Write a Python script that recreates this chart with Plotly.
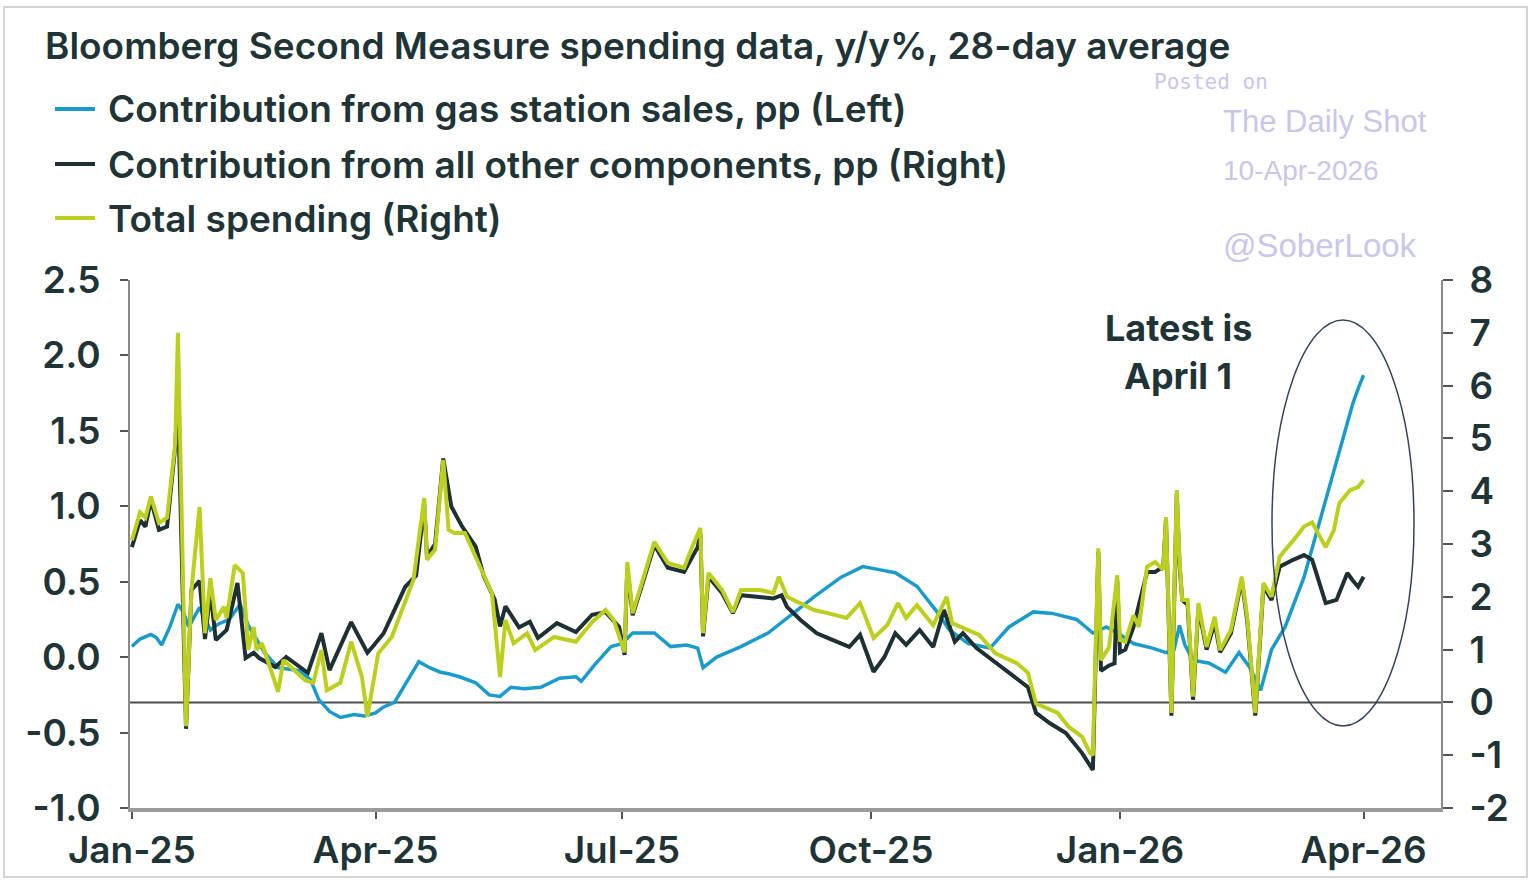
import pandas as pd
import plotly.graph_objects as go

# ---------------- data (days since 2025-01-01) ----------------
BASE = pd.Timestamp("2025-01-01")

gas_days = [0, 3, 7, 9, 11, 14, 17, 19, 21, 25, 29, 32, 36, 40, 43, 49, 54, 62, 66, 69,
            73, 77, 82, 86, 90, 93, 97, 101, 106, 110, 114, 117, 121, 127, 132, 136, 140, 145, 151, 158,
            164, 166, 171, 177, 181, 185, 193, 199, 205, 209, 211, 216, 225, 235, 244, 252, 262, 270, 276, 282,
            290, 297, 302, 309, 317, 324, 333, 340, 349, 355, 360, 365, 370, 377, 382, 385, 387, 389, 392, 398,
            404, 409, 413, 417, 421, 426, 433, 440, 446, 451, 453, 455]
gas_vals = [0.07, 0.12, 0.15, 0.13, 0.08, 0.20, 0.35, 0.30, 0.20, 0.33, 0.18, 0.22, 0.25, 0.35, 0.21, 0.03, -0.07, -0.09, -0.15, -0.28,
            -0.36, -0.40, -0.38, -0.39, -0.37, -0.33, -0.30, -0.18, -0.03, -0.07, -0.10, -0.11, -0.13, -0.17, -0.25, -0.26, -0.20, -0.21, -0.20, -0.14,
            -0.13, -0.16, -0.05, 0.07, 0.09, 0.16, 0.16, 0.07, 0.08, 0.06, -0.07, 0.00, 0.07, 0.16, 0.29, 0.40, 0.53, 0.60, 0.58, 0.56,
            0.47, 0.31, 0.18, 0.09, 0.06, 0.20, 0.30, 0.29, 0.25, 0.16, 0.20, 0.15, 0.09, 0.06, 0.03, 0.05, 0.21, 0.08, -0.02, -0.04,
            -0.10, 0.03, -0.07, -0.22, 0.05, 0.20, 0.53, 0.98, 1.35, 1.68, 1.78, 1.87]

other_days = [0, 3, 5, 7, 10, 13, 16, 17, 20, 22, 25, 27, 29, 31, 35, 39, 42, 45, 47, 53,
              57, 65, 70, 73, 81, 87, 89, 93, 101, 105, 108, 109, 112, 115, 118, 122, 127, 130, 134, 136,
              138, 143, 147, 150, 157, 164, 170, 175, 180, 182, 183, 185, 189, 193, 198, 204, 209, 210, 211, 213,
              218, 222, 225, 232, 237, 240, 242, 247, 253, 259, 265, 269, 274, 278, 282, 286, 291, 296, 300, 304,
              307, 312, 318, 324, 331, 334, 339, 345, 351, 355, 357, 358, 361, 363, 364, 365, 367, 370, 375, 378,
              381, 382, 384, 386, 387, 388, 390, 392, 394, 397, 400, 402, 406, 410, 412, 415, 418, 421, 424, 429,
              433, 436, 439, 441, 445, 449, 451, 453, 455]
other_vals = [2.94, 3.45, 3.33, 3.83, 3.27, 3.33, 4.84, 5.75, -0.50, 2.13, 2.30, 1.20, 2.10, 1.18, 1.37, 2.26, 0.84, 0.94, 0.84, 0.67,
              0.86, 0.56, 1.31, 0.61, 1.52, 0.94, 1.06, 1.31, 2.19, 2.40, 3.75, 2.76, 3.00, 4.62, 3.71, 3.33, 2.95, 2.39, 1.95, 1.44,
              1.82, 1.42, 1.53, 1.22, 1.50, 1.33, 1.66, 1.71, 1.43, 0.90, 2.55, 1.65, 2.31, 2.98, 2.55, 2.47, 2.94, 3.20, 1.25, 2.38,
              2.07, 1.69, 2.03, 2.00, 1.97, 2.03, 1.81, 1.56, 1.31, 1.18, 1.05, 1.28, 0.58, 0.86, 1.31, 1.09, 1.37, 1.05, 1.75, 1.15,
              1.31, 1.03, 0.80, 0.56, 0.29, -0.20, -0.39, -0.58, -0.96, -1.28, 2.85, 0.60, 0.70, 0.74, 2.30, 0.95, 1.00, 1.43, 2.47, 2.47,
              2.57, 3.45, -0.25, 3.95, 2.60, 1.94, 1.85, 0.05, 1.80, 1.00, 1.50, 0.95, 1.31, 2.32, 1.55, -0.25, 2.20, 1.94, 2.57, 2.70,
              2.79, 2.70, 2.19, 1.88, 1.94, 2.45, 2.31, 2.19, 2.38]

total_days = [0, 3, 5, 7, 10, 13, 16, 17, 20, 22, 25, 26, 27, 29, 31, 34, 35, 38, 41, 43,
              45, 46, 48, 51, 54, 56, 60, 64, 67, 70, 72, 77, 81, 85, 87, 91, 96, 101, 104, 108,
              109, 112, 115, 117, 119, 123, 128, 133, 136, 138, 141, 146, 149, 156, 164, 170, 175, 178, 182, 183,
              185, 189, 193, 198, 204, 207, 210, 211, 213, 218, 222, 225, 232, 237, 239, 242, 247, 252, 257, 264,
              269, 274, 279, 283, 286, 290, 296, 301, 303, 307, 313, 319, 327, 331, 334, 342, 346, 351, 354, 355,
              357, 358, 361, 364, 365, 367, 370, 372, 375, 378, 381, 382, 384, 386, 387, 388, 390, 392, 394, 397,
              400, 402, 406, 410, 412, 415, 418, 421, 424, 430, 433, 436, 438, 441, 444, 446, 450, 453, 455]
total_vals = [3.07, 3.60, 3.50, 3.90, 3.40, 3.50, 4.90, 7.00, -0.45, 2.13, 3.70, 2.38, 1.31, 2.35, 1.56, 1.81, 1.60, 2.60, 2.45, 1.00,
              1.43, 0.99, 1.12, 0.67, 0.20, 0.80, 0.61, 0.42, 0.37, 0.99, 0.23, 0.37, 1.15, 0.48, -0.27, 0.93, 1.24, 1.94, 2.32, 3.87,
              2.70, 2.89, 4.59, 3.27, 3.21, 3.21, 2.64, 2.07, 0.48, 1.56, 1.12, 1.31, 0.99, 1.24, 1.15, 1.52, 1.75, 1.56, 0.95, 2.66,
              1.69, 2.38, 3.04, 2.64, 2.55, 2.95, 3.30, 1.31, 2.45, 2.13, 1.71, 2.13, 2.13, 2.07, 2.38, 2.00, 1.88, 1.75, 1.69, 1.60,
              1.88, 1.22, 1.46, 1.88, 1.60, 1.84, 1.46, 2.00, 1.50, 1.41, 1.28, 0.93, 0.74, 0.56, -0.02, -0.20, -0.46, -0.65, -0.96, -1.00,
              2.92, 0.80, 1.05, 2.41, 1.18, 1.15, 1.65, 1.43, 2.57, 2.66, 2.51, 3.51, -0.20, 4.02, 2.70, 1.94, 1.94, 0.11, 1.88, 1.05,
              1.62, 0.99, 1.37, 2.38, 1.62, -0.20, 2.26, 2.00, 2.76, 3.13, 3.33, 3.41, 3.21, 2.94, 3.26, 3.77, 4.02, 4.08, 4.21]

series_names = ["Contribution from gas station sales, pp (Left)",
                "Contribution from all other components, pp (Right)",
                "Total spending (Right)"]

left_tickvals = [-1.0, -0.5, 0.0, 0.5, 1.0, 1.5, 2.0, 2.5]
left_ticktext = ["-1.0", "-0.5", "0.0", "0.5", "1.0", "1.5", "2.0", "2.5"]
right_tickvals = [-2, -1, 0, 1, 2, 3, 4, 5, 6, 7, 8]
right_ticktext = ["-2", "-1", "0", "1", "2", "3", "4", "5", "6", "7", "8"]

title_text = "Bloomberg Second Measure spending data, y/y%, 28-day average"
note_lines = ["Latest is", "April 1"]
watermarks = ["Posted on", "The Daily Shot", "10-Apr-2026", "@SoberLook"]

# ---------------- style ----------------
W, H = 1534, 884
ML, MR, MT, MB = 130, 93, 280, 76
BLUE, DARK, YELLOW = "#1b9bcb", "#1d3034", "#bccf1e"
TXT = "#1f3437"
WM = "#c9c6ea"
FONT = "Inter"
FS = 37


def px_x(px):
    return (px - ML) / (W - ML - MR)


def px_y(py):
    return (H - MB - py) / (H - MT - MB)


def dates(days):
    return [BASE + pd.Timedelta(days=d) for d in days]


fig = go.Figure()
fig.add_trace(go.Scatter(x=dates(gas_days), y=gas_vals, name=series_names[0], mode="lines",
                         line=dict(color=BLUE, width=3.5), yaxis="y"))
fig.add_trace(go.Scatter(x=dates(other_days), y=other_vals, name=series_names[1], mode="lines",
                         line=dict(color=DARK, width=4), yaxis="y2"))
fig.add_trace(go.Scatter(x=dates(total_days), y=total_vals, name=series_names[2], mode="lines",
                         line=dict(color=YELLOW, width=4), yaxis="y2"))

tickfont = dict(family=FONT, size=FS, color=TXT, weight=600)

fig.update_layout(
    width=W, height=H, autosize=False,
    margin=dict(l=ML, r=MR, t=MT, b=MB, pad=0),
    paper_bgcolor="white", plot_bgcolor="white",
    showlegend=False,
    xaxis=dict(type="date",
               range=[BASE - pd.Timedelta(days=0.7), BASE + pd.Timedelta(days=483.6)],
               tick0="2025-01-01", dtick="M3", tickformat="%b-%y",
               ticks="outside", ticklen=7, tickwidth=1.5, tickcolor="#555",
               showline=True, linecolor="#9a9a9a", linewidth=4,
               showgrid=False, zeroline=False, tickfont=tickfont),
    yaxis=dict(range=[-1.0, 2.5], tickvals=left_tickvals, ticktext=left_ticktext,
               ticks="outside", ticklen=8, tickwidth=1.5, tickcolor="#555",
               showline=True, linecolor="#8a8a8a", linewidth=2,
               showgrid=False, zeroline=False, tickfont=tickfont, ticklabelstandoff=12),
    yaxis2=dict(range=[-2, 8], tickvals=right_tickvals, ticktext=right_ticktext,
                overlaying="y", side="right",
                ticks="outside", ticklen=10, tickwidth=1.5, tickcolor="#555",
                showline=True, linecolor="#8a8a8a", linewidth=2,
                showgrid=False, zeroline=False, tickfont=tickfont, ticklabelstandoff=9),
)

shapes = []
# outer frame
shapes.append(dict(type="rect", xref="paper", yref="paper",
                   x0=px_x(4), x1=px_x(1527), y0=px_y(877), y1=px_y(7),
                   line=dict(color="#d4d4d4", width=2), layer="below"))
# zero line of right axis
shapes.append(dict(type="line", xref="paper", yref="y2", x0=0, x1=1, y0=0, y1=0,
                   line=dict(color="#4d4d4d", width=2), layer="below"))
# ellipse
shapes.append(dict(type="circle", xref="paper", yref="paper",
                   x0=px_x(1272), x1=px_x(1414), y0=px_y(726), y1=px_y(320),
                   line=dict(color="#34445f", width=1.5)))
# legend swatches
leg_y = [109, 164, 218]
for yy, c in zip(leg_y, [BLUE, DARK, YELLOW]):
    shapes.append(dict(type="line", xref="paper", yref="paper",
                       x0=px_x(55), x1=px_x(95), y0=px_y(yy), y1=px_y(yy),
                       line=dict(color=c, width=4)))
fig.update_layout(shapes=shapes)

ann = []
ann.append(dict(text=title_text, xref="paper", yref="paper", x=px_x(43), y=px_y(45),
                xanchor="left", yanchor="middle", showarrow=False,
                font=dict(family=FONT, size=FS, color=TXT, weight=600)))
for yy, name in zip(leg_y, series_names):
    ann.append(dict(text=name, xref="paper", yref="paper", x=px_x(106), y=px_y(yy),
                    xanchor="left", yanchor="middle", showarrow=False,
                    font=dict(family=FONT, size=FS, color=TXT, weight=600)))
for yy, t in zip([328, 376], note_lines):
    ann.append(dict(text=t, xref="paper", yref="paper", x=px_x(1178), y=px_y(yy),
                    xanchor="center", yanchor="middle", showarrow=False,
                    font=dict(family=FONT, size=36, color=TXT, weight=700)))
# watermark
ann.append(dict(text=watermarks[0], xref="paper", yref="paper", x=px_x(1152), y=px_y(82),
                xanchor="left", yanchor="middle", showarrow=False,
                font=dict(family="DejaVu Sans Mono", size=21, color=WM)))
ann.append(dict(text=watermarks[1], xref="paper", yref="paper", x=px_x(1221), y=px_y(121),
                xanchor="left", yanchor="middle", showarrow=False,
                font=dict(family="Liberation Sans", size=31, color=WM)))
ann.append(dict(text=watermarks[2], xref="paper", yref="paper", x=px_x(1221), y=px_y(171),
                xanchor="left", yanchor="middle", showarrow=False,
                font=dict(family="Liberation Sans", size=28, color=WM)))
ann.append(dict(text=watermarks[3], xref="paper", yref="paper", x=px_x(1221), y=px_y(246),
                xanchor="left", yanchor="middle", showarrow=False,
                font=dict(family="Liberation Sans", size=33, color=WM)))
fig.update_layout(annotations=ann)

fig.write_html("out.html", config={"displayModeBar": False},
               post_script="document.body.style.margin='0';document.body.style.overflow='hidden';")
